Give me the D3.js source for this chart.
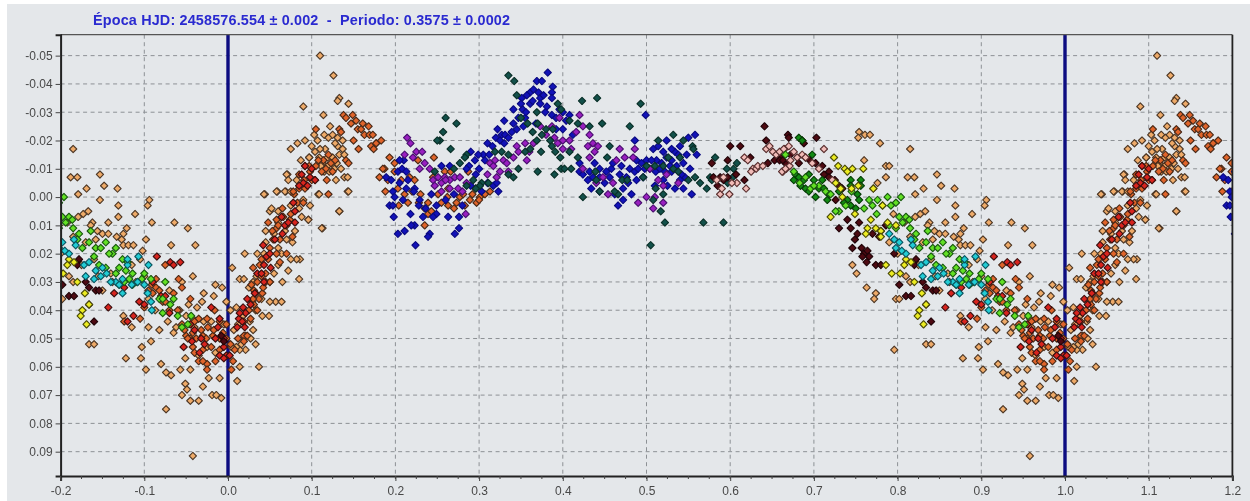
<!DOCTYPE html>
<html><head><meta charset="utf-8">
<script src="https://cdn.jsdelivr.net/npm/d3@7/dist/d3.min.js"></script>
<style>html,body{margin:0;padding:0;background:#fff;overflow:hidden}svg{display:block;filter:blur(.6px)}</style>
</head><body><svg id="c" width="1250" height="501"></svg>
<script>
const titleText="Época HJD: 2458576.554 ± 0.002  -  Periodo: 0.3575 ± 0.0002";
const xTicks=[-0.2,-0.1,0,0.1,0.2,0.3,0.4,0.5,0.6,0.7,0.8,0.9,1.0,1.1,1.2];
const yTicks=[-0.05,-0.04,-0.03,-0.02,-0.01,0,0.01,0.02,0.03,0.04,0.05,0.06,0.07,0.08,0.09];
const epochLines=[0,1];

const tan=[[.754,-.023],[.761,-.022],[.767,-.022],[.753,-.021],[.779,-.019],[.815,-.017],[.760,-.013],[.786,-.011],[.79,-.011],[.812,-.007],[.82,-.007],[.786,-.007],[.847,-.008],[.852,-.004],[.868,-.003],[.831,-.003],[.821,-.001],[.776,-.005],[.771,-.003],[.847,.001],[.869,.003],[.906,.001],[.904,.003],[.889,.006],[.869,.007],[.833,.005],[.827,.006],[.821,.007],[.838,.009],[.836,.010],[.857,.009],[.909,.009],[.936,.009],[.952,.011],[.879,.011],[.875,.013],[.844,.012],[.85,.013],[.857,.013],[.842,.015],[.867,.014],[.873,.015],[.902,.015],[.875,.017],[.881,.017],[.887,.017],[.932,.017],[.961,.017],[.898,.019],[.746,.024],[.751,.027],[.763,.032],[.774,.034],[.772,.036],[.798,.036],[.802,.036],[.958,.028],[.985,.031],[.993,.032],[.971,.034],[.983,.035],[.969,.037],[.998,.037],[.953,.038],[.963,.039],[.971,.044],[.796,.054],[.834,.052],[.84,.052],[.897,.053],[.908,.051],[.878,.057],[.896,.057],[.902,.061],[.92,.059],[.926,.062],[.932,.063],[.943,.061],[.955,.061],[.949,.057],[.965,.056],[.977,.064],[.97,.067],[.949,.066],[.951,.068],[.945,.07],[.955,.072],[.965,.072],[.981,.07],[.986,.07],[.992,.071],[.926,.075],[.958,.0915],[.99,.064],[.011,.065],[.037,.06],[.014,.06],[.005,.025],[.014,.029],[.019,.029],[.035,.02],[.043,.02],[.044,-.001],[.059,-.002],[.069,-.002],[.071,-.008],[.075,-.017],[.083,-.019],[.092,-.02],[.097,-.014],[.113,.011],[.133,.005],[.143,-.002],[.108,-.001],[.096,.008],[.085,.029],[.086,.022],[.082,.022],[.077,.016],[.057,.037],[.064,.037],[.05,.037],[.041,.042],[.049,.042],[.021,.054],[.11,-.05],[.126,-.043],[.133,-.035],[.131,-.034],[.144,-.033],[.09,-.032],[.114,-.029],[.122,-.025],[.103,-.022],[.115,-.022],[.12,-.021],[.125,-.022],[.131,-.021],[.137,-.02],[.131,-.018],[.137,-.017],[.107,-.02],[.097,-.014],[.133,-.015],[.139,-.015],[.109,-.014],[.113,-.012],[.119,-.014],[.125,-.014],[.111,-.011],[.119,-.011],[.127,-.011],[.115,-.009],[.121,-.009],[.127,-.01],[.139,-.007],[.143,-.007],[.129,-.006],[.144,-.002],[.109,-.001],[.133,.005],[.112,.011],[.043,-.001],[.058,-.002],[.068,-.002],[.075,-.002],[.07,-.008],[.072,-.006],[.096,.008],[.05,.005],[.06,.009],[.075,.003],[.085,.004],[.09,.001],[.045,.012],[.045,.016],[.055,.013],[.06,.018],[.07,.015],[.075,.022],[.02,.02],[.025,.032],[.05,.03],[.055,.027],[.065,.03],[.06,.024],[.029,.037],[.033,.04],[.03,.03],[.01,.039],[.018,.042],[.02,.05],[.033,.052],[.014,.054],[.021,.049],[.01,.053],[.958,.043],[.942,.04],[.935,.048],[.918,.047],[.905,.046],[.885,.046],[.875,.042],[.92,.036],[.93,.033],[.945,.03],[.86,.027],[.862,.03],[.885,.024],[.895,.022],[.89,.03],[.9,.028],[.84,.022],[.845,.028],[.85,.033],[.815,.03],[.825,.024],[.81,.028],[.8,.02],[.79,.016],[.78,.012],[.795,.006],[.808,.009],[.815,.014],[.83,.016],[.905,.036],[.913,.04],[.928,.044],[.938,.046],[.95,.042],[.96,.046],[.98,.044],[.975,.053],[.985,.055],[.995,.045],[.003,.04],[.007,.047],[.016,.052],[.027,.05],[.03,.047],[.004,.053],[.012,.045],[.06,.005],[.052,.004],[.068,.012],[.08,.012],[.088,.007],[.098,.003],[.104,-.016],[.116,-.017],[.128,-.019],[.13,-.012],[.135,-.01],[.11,-.017],[.1,-.018],[.082,-.006],[.092,-.011],[.087,-.013],[.034,.028],[.04,.036],[.026,.044],[.064,.02],[.072,.026]];

const orange=[[.138,-.029],[.141,-.028],[.149,-.029],[.153,-.027],[.147,-.026],[.161,-.026],[.168,-.025],[.155,-.024],[.159,-.024],[.163,-.022],[.169,-.022],[.15,-.02],[.156,-.017],[.171,-.018],[.177,-.019],[.183,-.02],[.174,-.017],[.133,-.024],[.135,-.023],[.105,-.024],[.141,-.013],[.144,-.012],[.118,-.006],[.12,-.001],[.114,-.013],[.123,-.012],[.117,-.01],[.173,-.022],[.177,-.019],[.193,-.014],[.199,-.012],[.187,-.01],[.185,-.01],[.199,-.009],[.181,-.007],[.191,-.006],[.207,-.006],[.217,-.007],[.223,-.006],[.203,-.003],[.188,-.002],[.211,-.001],[.215,.002],[.23,-.001],[.204,.003],[.239,.002],[.239,.006],[.243,.005],[.235,.01],[.227,-.013],[.246,-.014],[.259,-.009],[.266,-.009],[.287,-.009],[.251,-.001],[.262,0],[.263,.003],[.273,.002],[.283,.003],[.277,0],[.289,.001],[.297,.002],[.301,0],[.307,-.001],[.313,-.002],[.281,-.001],[.263,-.003],[.245,-.007],[.909,.031],[.914,.029],[.914,.032],[.905,.033],[.876,.044],[.895,.043],[.925,.024],[.941,.029],[.945,.032],[.955,.036],[.935,.034],[.958,.048],[.962,.05],[.97,.049],[.976,.046],[.974,.05],[.99,.054],[.982,.049],[.95,.049],[.958,.053],[.97,.054],[.998,.05],[.008,.054],[.019,.049],[.023,.049],[.019,.051],[.004,.061],[.975,.059],[.975,.061],[.035,.03],[.031,.033],[.041,.034],[.033,.034],[.037,.036],[.031,.038],[.027,.043],[.019,.044],[.048,.009],[.058,.008],[.066,.007],[.074,.008],[.058,.011],[.054,.015],[.062,.015],[.058,.02],[.07,.02],[.062,.023],[.077,.014],[.079,-.001],[.083,.002],[.091,-.006],[.098,-.009],[.104,-.006],[.09,.002],[.085,-.003],[.998,.045],[.984,.04],[.99,.044],[.965,.043],[.945,.045],[.93,.04],[.922,.037],[.9,.039],[.03,.025],[.04,.022],[.05,.018],[.045,.027],[.96,.044],[.968,.047],[.975,.043],[.983,.047],[.99,.05],[.994,.048],[.96,.055],[.965,.058],[.98,.053],[.955,.05],[.985,.058],[.003,.052],[.006,.058],[.012,.05],[.025,.04],[.03,.036],[.035,.04],[.04,.028],[.045,.03],[.05,.03],[.028,.031],[.038,.024],[.042,.032],[.048,.022],[.053,.012],[.06,.01],[.065,.004],[.07,.01],[.075,.006],[.078,-.002],[.085,-.008],[.092,-.003],[.097,-.011],[.105,-.011],[.1,-.006],[.108,-.013],[.112,-.009],[.125,-.009],[.12,-.015],[.128,-.013],[.91,.034],[.918,.033],[.925,.037],[.94,.04],[.948,.047],[.952,.05],[.97,.058],[.22,-.002],[.228,.002],[.235,.004],[.255,.002],[.27,.004],[.292,-.001],[.3,.001],[.296,-.003]];

const red=[[.915,.021],[.931,.023],[.943,.023],[.935,.024],[.894,.037],[.9,.038],[.91,.03],[.92,.035],[.925,.035],[.876,.032],[.857,.039],[.864,.034],[.887,.042],[.88,.044],[.93,.041],[.947,.053],[.957,.051],[.966,.055],[.98,.039],[.988,.046],[.998,.056],[.002,.056],[.013,.043],[.017,.044],[.011,.046],[.021,.041],[.027,.038],[.035,.027],[.043,.024],[.051,.025],[.043,.03],[.064,.007],[.08,.009],[.056,.015],[.092,-.011],[.098,-.007],[.104,-.006],[.09,-.005],[.078,.002],[.08,.005],[.955,.045],[.968,.05],[.985,.05],[.995,.053],[.99,.043],[.972,.052],[.96,.047],[.99,.056],[.995,.057],[.995,.05],[.018,.039],[.023,.036],[.032,.034],[.04,.027],[.046,.021],[.042,.017],[.05,.02],[.068,.01],[.072,.009],[.065,.013],[.088,-.008],[.1,-.01],[.095,-.004],[.085,-.004],[.02,.046],[.014,.041]];

const maroon=[[.669,-.022],[.703,-.021],[.686,-.02],[.688,-.019],[.66,-.014],[.666,-.012],[.682,-.012],[.702,-.012],[.71,-.011],[.718,-.009],[.718,-.007],[.734,-.003],[.726,.001],[.74,.008],[.73,.011],[.744,.011],[.754,.009],[.752,.013],[.749,.015],[.746,.018],[.76,.02],[.764,.019],[.758,.021],[.766,.021],[.774,.024],[.78,.024],[.786,.01],[.796,.02],[.822,.022],[.82,.024],[.83,.03],[.834,.032],[.842,.033],[.846,.033],[.802,.031],[.81,.035],[.816,.035],[.84,.044],[.778,.014],[.77,.013],[.834,.038],[.641,-.025],[.643,-.02],[.6,-.018],[.612,-.018],[.597,-.013],[.578,-.012],[.624,-.014],[.67,-.021],[.617,-.006],[.58,-.007],[.588,-.007],[.597,-.007],[.607,-.008],[.592,-.006],[.585,-.004],[.653,-.013],[.659,-.013],[.645,-.012],[.663,-.013],[.672,-.015],[.69,-.014],[.695,-.013],[.712,-.008],[.725,-.006],[.73,-.004],[.757,.018],[.763,.023],[.992,.049],[.995,.051]];

const pink=[[.588,-.001],[.599,-.001],[.619,-.003],[.59,-.003],[.584,-.006],[.608,-.005],[.602,-.005],[.592,-.007],[.617,-.014],[.621,-.013],[.627,-.01],[.631,-.01],[.633,-.011],[.639,-.011],[.625,-.009],[.643,-.017],[.647,-.018],[.651,-.016],[.655,-.015],[.659,-.016],[.665,-.017],[.663,-.009],[.667,-.01],[.671,-.011],[.664,-.017],[.67,-.018],[.676,-.016],[.686,-.015],[.662,-.009],[.666,-.01],[.698,-.012],[.706,-.01],[.712,-.017],[.722,-.006],[.69,-.014],[.68,-.014],[.672,-.013]];

const greenDark=[[.682,-.021],[.686,-.02],[.678,-.008],[.682,-.007],[.688,-.006],[.694,-.008],[.702,0],[.706,-.003],[.716,.001],[.718,-.001],[.712,-.003],[.698,-.015],[.744,-.006],[.756,-.006],[.752,-.001],[.754,.001],[.744,.003],[.74,.001],[.75,.004],[.756,-.004],[.744,-.004],[.684,-.004],[.7,-.006],[.676,-.006],[.73,-.002],[.736,.002],[.69,-.003],[.694,-.002],[.71,-.006]];

const greenBright=[[.666,-.015],[.676,-.009],[.696,-.003],[.706,-.004],[.73,.005],[.726,.005],[.788,0],[.804,0],[.798,.002],[.792,.003],[.766,.001],[.776,.001],[.782,.003],[.77,.003],[.802,.007],[.81,.007],[.814,.008],[.806,.009],[.79,.01],[.798,.011],[.822,.013],[.82,.015],[.834,.016],[.842,.018],[.854,.016],[.848,.018],[.84,.021],[.866,.018],[.862,.02],[.874,.022],[.846,.024],[.854,.025],[.88,.023],[.866,.027],[.878,.026],[.886,.027],[.882,.029],[.886,.031],[.897,.029],[.908,.029],[.892,.03],[.925,.03],[.918,.036],[.922,.036],[.935,.036],[.931,.038],[.922,.041],[.94,.042],[.956,.042],[.945,.046],[.952,.045],[.815,.011],[.826,.018],[.836,.012],[.858,.02],[.87,.025],[.87,.031],[.76,.004],[.775,.006],[.683,-.005],[.69,-.007],[.7,-.004],[.714,-.002],[.72,-.001],[.738,.003],[.745,-.002],[.876,.03],[.9,.027]];

const yellow=[[.724,-.014],[.729,-.011],[.737,-.01],[.746,-.01],[.74,-.009],[.759,-.01],[.753,-.004],[.771,-.003],[.726,-.005],[.72,.007],[.749,.006],[.734,0],[.782,.003],[.768,.008],[.764,.011],[.762,.013],[.774,.011],[.78,.012],[.78,.014],[.798,.01],[.788,.009],[.81,.022],[.808,.024],[.786,.024],[.793,.027],[.803,.027],[.82,.03],[.829,.034],[.826,.04],[.824,.042],[.831,.045],[.834,.038],[.816,.023],[.745,-.003],[.732,-.003]];

const cyan=[[.79,.013],[.796,.015],[.798,.018],[.81,.02],[.818,.017],[.816,.015],[.828,.024],[.834,.023],[.842,.026],[.848,.028],[.83,.028],[.866,.03],[.87,.031],[.874,.029],[.874,.034],[.88,.024],[.88,.022],[.893,.021],[.905,.024],[.9,.031],[.904,.034],[.908,.037],[.909,.04],[.892,.03],[.855,.027],[.86,.03],[.805,.019],[.85,.025],[.802,.016],[.84,.029],[.885,.031]];

const blue=[[.382,-.044],[.369,-.041],[.375,-.041],[.388,-.039],[.387,-.037],[.387,-.035],[.361,-.037],[.365,-.038],[.371,-.037],[.357,-.036],[.351,-.035],[.361,-.033],[.373,-.035],[.377,-.036],[.373,-.033],[.381,-.032],[.341,-.031],[.352,-.031],[.379,-.03],[.387,-.029],[.396,-.031],[.408,-.029],[.404,-.027],[.33,-.027],[.341,-.026],[.347,-.028],[.353,-.025],[.345,-.024],[.339,-.023],[.327,-.022],[.331,-.022],[.335,-.021],[.32,-.021],[.325,-.02],[.31,-.019],[.305,-.015],[.299,-.015],[.295,-.013],[.307,-.013],[.323,-.002],[.317,-.004],[.321,-.005],[.499,-.029],[.486,-.02],[.21,-.013],[.205,-.013],[.203,-.009],[.208,-.01],[.213,-.009],[.189,-.007],[.195,-.006],[.205,-.005],[.213,-.003],[.223,-.003],[.197,-.002],[.199,0],[.209,.001],[.193,.003],[.197,.003],[.229,.001],[.228,.003],[.249,.003],[.249,.006],[.245,.007],[.233,.007],[.218,.006],[.198,.007],[.263,.007],[.276,.007],[.276,.011],[.271,.013],[.223,.01],[.219,.01],[.211,.012],[.203,.013],[.241,.013],[.239,.014],[.224,.017],[.255,-.011],[.265,-.011],[.42,-.009],[.424,-.008],[.432,-.009],[.436,-.007],[.444,-.01],[.452,-.009],[.444,-.007],[.456,-.007],[.434,-.003],[.444,-.002],[.462,-.001],[.466,.003],[.472,.001],[.482,-.001],[.468,-.008],[.48,-.01],[.488,-.013],[.494,-.012],[.5,-.013],[.476,-.007],[.486,-.009],[.496,-.007],[.488,-.006],[.511,-.009],[.508,-.017],[.514,-.018],[.524,-.02],[.52,-.016],[.512,-.013],[.524,-.014],[.53,-.013],[.534,-.016],[.538,-.015],[.544,-.012],[.548,-.015],[.55,-.021],[.558,-.022],[.56,-.015],[.552,-.01],[.546,-.007],[.534,-.003],[.544,-.003],[.554,-.001],[.52,-.006],[.53,-.009],[.522,-.009],[.504,-.01],[.516,-.01],[.355,-.028],[.368,-.026],[.392,-.024],[.4,-.024],[.412,-.022],[.288,-.011],[.29,-.004],[.31,-.005],[.303,-.002],[.26,.001],[.27,-.001],[.28,.003],[.215,-.006],[.222,-.002],[.236,.004],[.243,-.001],[.33,-.019],[.322,-.024],[.316,-.018],[.35,-.033],[.356,-.03],[.364,-.034],[.392,-.028],[.4,-.03],[.43,-.006],[.45,-.005],[.458,-.01],[.47,-.011],[.478,-.005],[.49,-.01],[.498,-.01],[.506,-.013],[.518,-.012],[.528,-.011],[.536,-.011],[.542,-.008],[.53,-.017],[.54,-.018],[.296,-.008],[.3,-.01],[.312,-.015],[.29,-.016],[.285,-.01],[.42,-.012],[.438,-.012],[.46,-.012],[.472,-.003],[.51,-.004],[.525,-.004],[.54,-.006]];

const purple=[[.214,-.021],[.218,-.019],[.211,-.015],[.221,-.014],[.225,-.016],[.232,-.016],[.235,-.012],[.241,-.01],[.229,-.01],[.245,-.006],[.251,-.007],[.259,-.007],[.247,-.004],[.255,-.005],[.265,-.006],[.271,-.007],[.277,-.007],[.275,-.003],[.265,-.003],[.285,-.005],[.284,.006],[.313,-.012],[.317,-.011],[.319,-.013],[.329,-.013],[.333,-.012],[.341,-.014],[.347,-.016],[.355,-.019],[.365,-.019],[.321,-.007],[.31,-.008],[.42,-.029],[.424,-.025],[.416,-.023],[.408,-.02],[.4,-.02],[.396,-.028],[.432,-.022],[.436,-.019],[.442,-.018],[.438,-.016],[.387,-.025],[.373,-.025],[.468,-.017],[.486,-.017],[.474,-.014],[.464,-.013],[.448,-.007],[.424,-.01],[.432,-.014],[.46,-.005],[.454,-.001],[.44,-.005],[.49,.002],[.5,0],[.51,0],[.508,.004],[.52,.002],[.52,-.004],[.514,-.006],[.504,-.01],[.484,-.014],[.538,-.005],[.524,-.008],[.357,-.013],[.4,-.017],[.41,-.017],[.38,-.022],[.255,-.002],[.26,-.006],[.28,-.002],[.325,-.009],[.335,-.009],[.345,-.018],[.36,-.016],[.39,-.021],[.394,-.019],[.43,-.018]];

const teal=[[.335,-.043],[.342,-.041],[.345,-.036],[.423,-.034],[.441,-.035],[.493,-.033],[.447,-.026],[.48,-.025],[.26,-.028],[.273,-.026],[.257,-.023],[.253,-.02],[.25,-.02],[.266,-.017],[.285,-.015],[.283,-.014],[.277,-.012],[.27,-.01],[.247,-.009],[.293,-.006],[.303,-.005],[.311,-.005],[.301,-.004],[.319,-.016],[.327,-.016],[.335,-.015],[.335,-.008],[.341,-.007],[.347,-.01],[.355,-.016],[.361,-.017],[.369,-.03],[.394,-.033],[.398,-.031],[.408,-.027],[.418,-.026],[.432,-.025],[.364,-.023],[.37,-.026],[.38,-.024],[.388,-.024],[.369,-.02],[.385,-.02],[.387,-.018],[.374,-.016],[.391,-.016],[.397,-.014],[.408,-.016],[.418,-.014],[.37,-.009],[.39,-.008],[.398,-.01],[.402,-.01],[.41,-.01],[.424,0],[.456,-.018],[.453,-.014],[.44,-.006],[.444,-.002],[.439,-.009],[.471,-.006],[.477,-.006],[.466,-.001],[.514,-.02],[.532,-.022],[.544,-.02],[.555,-.018],[.556,-.017],[.496,-.007],[.5,-.011],[.526,-.014],[.532,-.01],[.538,-.009],[.55,-.006],[.511,-.003],[.52,-.001],[.508,.001],[.517,.005],[.522,.009],[.505,.017],[.568,.009],[.592,.009],[.572,-.003],[.564,-.005],[.558,-.007],[.576,-.007],[.578,-.006],[.582,-.014],[.596,-.01],[.608,-.012],[.604,-.01],[.597,-.005],[.603,-.007],[.35,-.028],[.358,-.026],[.375,-.022],[.296,-.003],[.285,-.004],[.54,-.014],[.52,-.011],[.51,-.011],[.462,-.002]];

const seriesValues=[tan,orange,red,blue,purple,teal,maroon,pink,greenDark,greenBright,yellow,cyan];
const seriesFill=["#eeaa68","#e0642a","#d8241e","#1212b8","#9a1fc0","#12504a","#4e0a12","#f2bcb8","#128a14","#62e024","#ecec22","#22ccd4"];
const seriesStroke=["#4e3826","#4a2a18","#3a1010","#0a0a80","#4a1070","#0a3028","#200408","#5a3030","#063c06","#1a5a10","#4a4a08","#0a5560"];

const W=1250,H=501,L=60.6,R=1232.4,T=34.7,B=476;
const svg=d3.select("#c");
svg.append("rect").attr("x",7).attr("y",4).attr("width",W-7).attr("height",H-4).attr("fill","#e4e7ea");
const x=d3.scaleLinear().domain([-0.2,1.2]).range([L,R]);
const y=d3.scaleLinear().domain([-0.0574,0.0986]).range([T,B]);
svg.append("defs").append("clipPath").attr("id","pc").append("rect").attr("x",L).attr("y",T).attr("width",R-L).attr("height",B-T);

// grid
const grid=svg.append("g").attr("stroke","#8d9195").attr("stroke-width",1).attr("stroke-dasharray","4 3.5");
grid.selectAll("line.v").data(xTicks.slice(1,-1)).join("line").attr("x1",d=>x(d)).attr("x2",d=>x(d)).attr("y1",T).attr("y2",B);
grid.selectAll("line.h").data(yTicks).join("line").attr("x1",L).attr("x2",R).attr("y1",d=>y(d)).attr("y2",d=>y(d));

// epoch lines
svg.append("g").selectAll("line").data(epochLines).join("line").attr("x1",d=>x(d)).attr("x2",d=>x(d)).attr("y1",T).attr("y2",B).attr("stroke","#0c0c80").attr("stroke-width",3.4);

// points (folded light curve shown over phase -0.2..1.2)
const sym=d3.symbol().type(d3.symbolSquare).size(26)();
const marks=svg.append("g").attr("clip-path","url(#pc)");
seriesValues.forEach((s,i)=>{
  const pts=[];
  [-1,0,1].forEach(k=>s.forEach(p=>{const ph=p[0]+k;if(ph>=-0.205&&ph<=1.205)pts.push([ph,p[1]]);}));
  marks.append("g").selectAll("path").data(pts).join("path").attr("d",sym)
    .attr("transform",d=>`translate(${x(d[0])},${y(d[1])}) rotate(45)`)
    .attr("fill",seriesFill[i]).attr("stroke",seriesStroke[i]).attr("stroke-width",1.15).attr("stroke-linejoin","round");
});

// frame
svg.append("line").attr("x1",L).attr("x2",R).attr("y1",T).attr("y2",T).attr("stroke","#555").attr("stroke-width",1.2);
svg.append("line").attr("x1",R).attr("x2",R).attr("y1",T).attr("y2",B+1).attr("stroke","#222").attr("stroke-width",1.8);

// axes
const ax=svg.append("g").attr("transform",`translate(0,${B})`).call(d3.axisBottom(x).tickValues(xTicks).tickFormat(d3.format(".1f")).tickSize(5).tickPadding(5));
const ay=svg.append("g").attr("transform",`translate(${L},0)`).call(d3.axisLeft(y).tickValues(yTicks).tickFormat(d3.format(".2f")).tickSize(5).tickPadding(3));
[ax,ay].forEach(a=>{a.select(".domain").attr("stroke","#222").attr("stroke-width",2);a.selectAll("line").attr("stroke","#444");a.selectAll("text").attr("fill","#484848").attr("font-family","'Liberation Sans',Arial,sans-serif").attr("font-size",12);});
ay.selectAll("text").text(d=>d3.format(".2f")(d).replace("−","-"));
ax.selectAll("text").text(d=>d3.format(".1f")(d).replace("−","-"));
// minor x ticks
const minor=d3.range(-0.2,1.2001,0.025);
svg.append("g").selectAll("line").data(minor).join("line").attr("x1",d=>x(d)).attr("x2",d=>x(d)).attr("y1",B).attr("y2",B+3).attr("stroke","#444");

// title
svg.append("text").attr("x",93).attr("y",25).attr("fill","#2a2ad0").attr("font-family","'Liberation Sans',Arial,sans-serif").attr("font-size",14.4).attr("font-weight",700).attr("textLength",417).attr("lengthAdjust","spacing").attr("xml:space","preserve").style("white-space","pre").text(titleText);
</script></body></html>
